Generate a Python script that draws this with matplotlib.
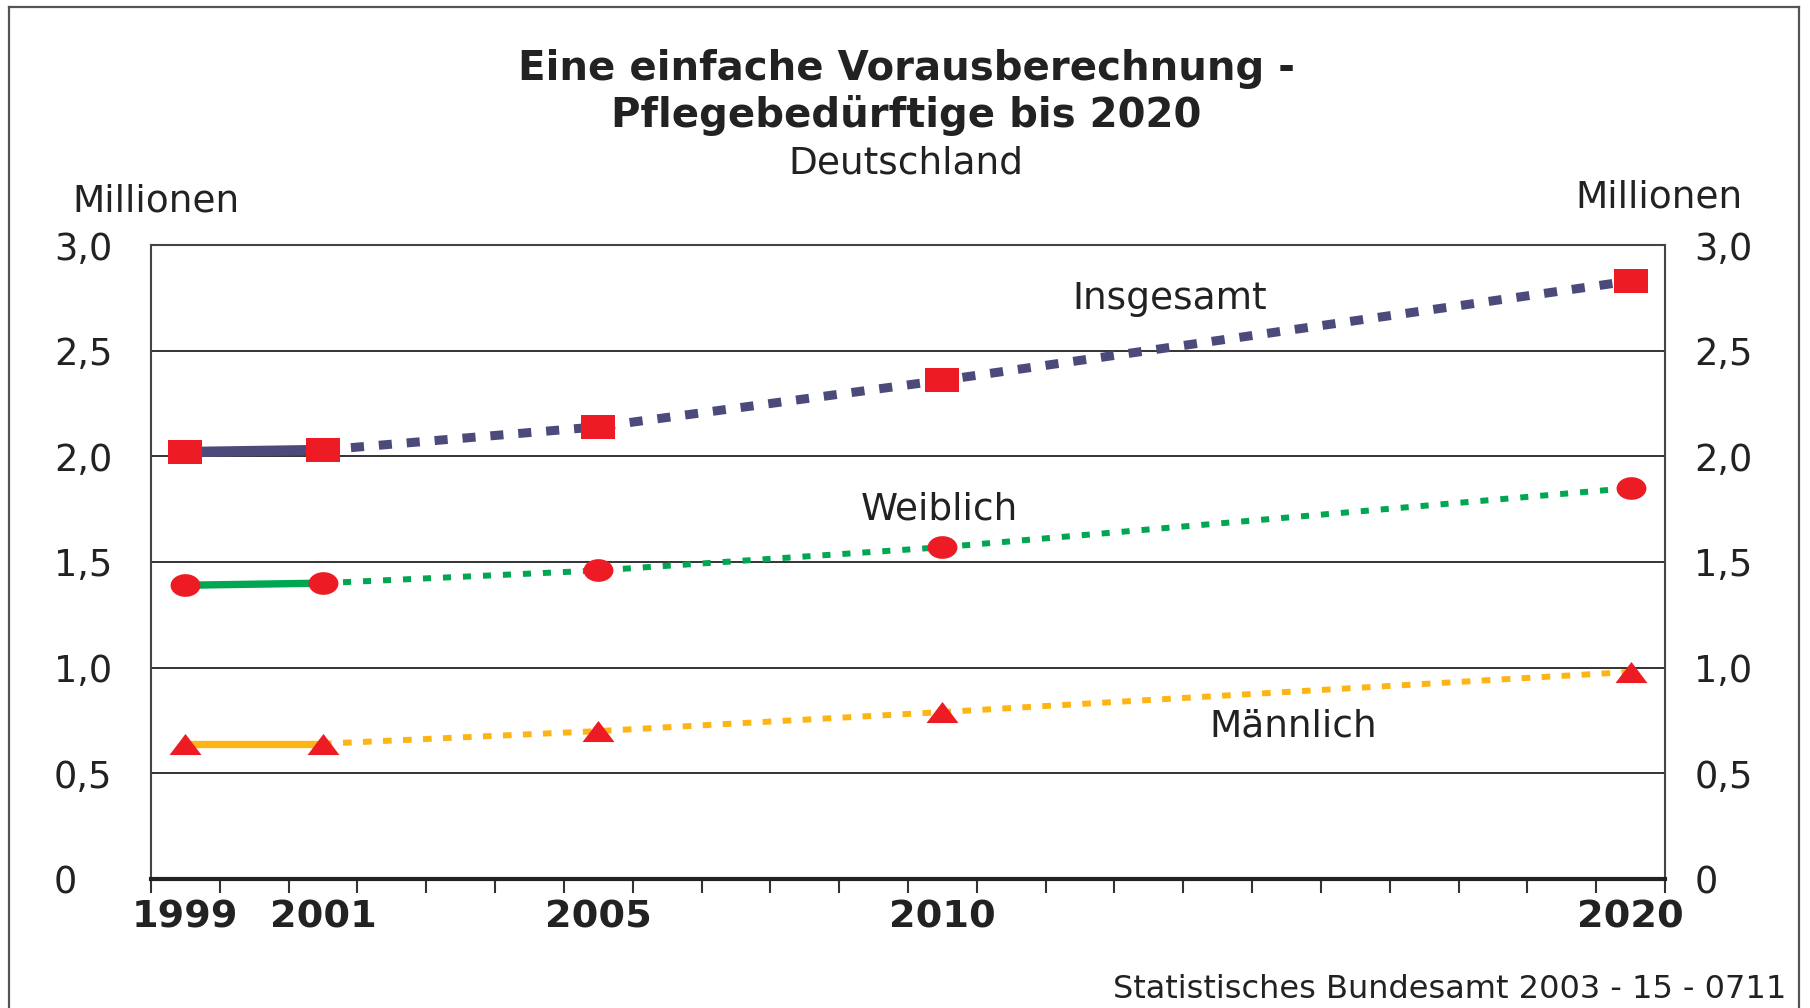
import matplotlib
matplotlib.use("Agg")
import matplotlib.pyplot as plt
from matplotlib.path import Path
from matplotlib.lines import Line2D
import numpy as np

# ---- data ----
years = [1999, 2001, 2005, 2010, 2020]
insgesamt = [2.02, 2.03, 2.14, 2.36, 2.83]
weiblich = [1.39, 1.40, 1.46, 1.57, 1.85]
maennlich = [0.64, 0.64, 0.70, 0.79, 0.98]
xtick_labels = ["1999", "2001", "2005", "2010", "2020"]
ytick_values = [0, 0.5, 1.0, 1.5, 2.0, 2.5, 3.0]
ytick_labels = ["0", "0,5", "1,0", "1,5", "2,0", "2,5", "3,0"]

plt.rcParams['font.family'] = ['DejaVu Sans']

W, H = 1810, 1008
fig = plt.figure(figsize=(W / 100, H / 100), dpi=100)
fig.patch.set_facecolor('white')

# axes box in pixels
L, R, T, B = 151, 1665, 245, 879
ax = fig.add_axes([L / W, 1 - B / H, (R - L) / W, (B - T) / H])
ax.set_xlim(1998.5, 2020.5)
ax.set_ylim(0, 3.0)

# gridlines
for v in ytick_values[1:-1]:
    ax.axhline(v, color='#333333', lw=1.4, zorder=1)

for s in ['left', 'right', 'top']:
    ax.spines[s].set_color('#444444')
    ax.spines[s].set_linewidth(1.5)
ax.spines['bottom'].set_color('#222222')
ax.spines['bottom'].set_linewidth(3.0)

# ticks
ax.set_xticks(years)
ax.set_xticklabels(xtick_labels, fontsize=27.5, fontweight='bold', color='#222222')
ax.set_xticks(np.arange(1998.5, 2020.6, 1.0), minor=True)
ax.tick_params(axis='x', which='major', length=0, pad=15)
ax.tick_params(axis='x', which='minor', length=10, width=1.5, color='#333333', direction='out')

ax.set_yticks(ytick_values)
ax.set_yticklabels(ytick_labels, fontsize=26.5, color='#222222')
ax.tick_params(axis='y', which='both', length=0, left=False, right=False,
               labelleft=True, labelright=True)
ax.yaxis.set_tick_params(which='major', pad=21)
# left labels: left-aligned at a common left edge
for tk in ax.yaxis.get_major_ticks():
    tk.set_pad(70)
    tk.label1.set_horizontalalignment('left')
    tk.label2.set_horizontalalignment('left')
for tk in ax.yaxis.get_major_ticks():
    tk.label2.set_x(1.0)
fig.canvas.draw()
import matplotlib.transforms as mtransforms
for tk in ax.yaxis.get_major_ticks():
    tk.label2.set_transform(ax.get_yaxis_transform(which='tick2') +
                            mtransforms.ScaledTranslation(21 / 72, 0, fig.dpi_scale_trans))

# marker shapes (slightly wide, as in the reference)
sq = Path([(-1, -0.73), (1, -0.73), (1, 0.73), (-1, 0.73), (-1, -0.73)],
          [Path.MOVETO, Path.LINETO, Path.LINETO, Path.LINETO, Path.CLOSEPOLY])
t = np.linspace(0, 2 * np.pi, 60)
ell = Path(np.column_stack([np.cos(t), 0.76 * np.sin(t)]))
tri = Path([(-1, -0.66), (1, -0.66), (0, 0.66), (-1, -0.66)],
           [Path.MOVETO, Path.LINETO, Path.LINETO, Path.CLOSEPOLY])

red = '#ed1c24'
series = [
    (insgesamt, '#4b4a7a', 6.5, (0, (1.45, 1.65)), sq, 24),
    (weiblich, '#00a651', 4.3, (0, (1.35, 2.0)), ell, 21.5),
    (maennlich, '#fdb515', 4.3, (0, (1.45, 1.9)), tri, 23),
]
for vals, col, lw, ls, mk, ms in series:
    ax.plot(years[:2], vals[:2], color=col, lw=lw + 1, solid_capstyle='butt', zorder=3)
    ax.plot(years[1:], vals[1:], color=col, lw=lw, linestyle=ls, zorder=3)
    ax.plot(years, vals, linestyle='none', marker=mk, markersize=ms,
            markerfacecolor=red, markeredgecolor=red, markeredgewidth=0, zorder=4)

# series labels
ax.text(2013.3, 2.745, "Insgesamt", fontsize=27, ha='center', va='center', color='#222222')
ax.text(2009.95, 1.75, "Weiblich", fontsize=27, ha='center', va='center', color='#222222')
ax.text(2015.1, 0.72, "Männlich", fontsize=27, ha='center', va='center', color='#222222')

# titles
fig.text(906 / W, 1 - 69 / H, "Eine einfache Vorausberechnung -", fontsize=29,
         fontweight='bold', ha='center', va='center', color='#222222')
fig.text(906 / W, 1 - 115 / H, "Pflegebedürftige bis 2020", fontsize=29,
         fontweight='bold', ha='center', va='center', color='#222222')
fig.text(906 / W, 1 - 163 / H, "Deutschland", fontsize=27,
         ha='center', va='center', color='#222222')

fig.text(156 / W, 1 - 202 / H, "Millionen", fontsize=27, ha='center', va='center', color='#222222')
fig.text(1659 / W, 1 - 197 / H, "Millionen", fontsize=27, ha='center', va='center', color='#222222')

fig.text(1786 / W, 1 - 990 / H, "Statistisches Bundesamt 2003 - 15 - 0711", fontsize=23,
         ha='right', va='center', color='#222222')

# outer frame (left, top, right)
fc = '#555555'
fig.add_artist(Line2D([9 / W, 9 / W], [0, 1 - 7 / H], transform=fig.transFigure, color=fc, lw=1.6))
fig.add_artist(Line2D([9 / W, 1799 / W], [1 - 7 / H, 1 - 7 / H], transform=fig.transFigure, color=fc, lw=1.6))
fig.add_artist(Line2D([1799 / W, 1799 / W], [0, 1 - 7 / H], transform=fig.transFigure, color=fc, lw=1.6))

fig.savefig("out.png", dpi=100, facecolor='white')
